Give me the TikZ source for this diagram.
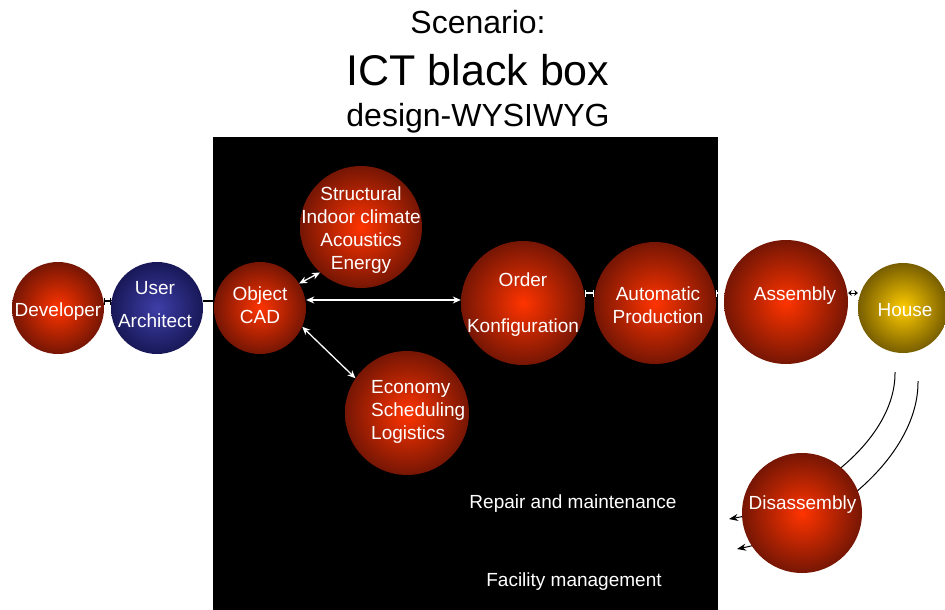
\documentclass[tikz,border=0pt]{standalone}
\usepackage{fontspec}
\setmainfont{Liberation Sans}
\usetikzlibrary{arrows.meta}
\definecolor{rin}{RGB}{255,52,0}
\definecolor{rout}{RGB}{118,22,4}
\definecolor{bin}{RGB}{62,62,168}
\definecolor{bout}{RGB}{24,24,88}
\definecolor{yin}{RGB}{255,204,0}
\definecolor{yout}{RGB}{120,94,0}
\tikzset{
  ball/.style={circle, draw=none, inner sep=0pt, minimum size=#1},
  redball/.style={ball=#1, inner color=rin, outer color=rout},
  blueball/.style={ball=#1, inner color=bin, outer color=bout},
  yellowball/.style={ball=#1, inner color=yin, outer color=yout},
  lbl/.style={text=white, anchor=base, align=center, inner sep=0pt, font=\fontsize{19}{23}\selectfont},
  note/.style={text=white, anchor=base, inner sep=0pt, font=\fontsize{19}{22}\selectfont},
  title/.style={text=black, anchor=base, inner sep=0pt},
  wdarrow/.style={white, line width=1.3pt, {Stealth[length=8pt,width=7pt]}-{Stealth[length=8pt,width=7pt]}},
  wbar/.style={white, line width=1.2pt, {Bar[width=7pt]}-{Bar[width=7pt]}},
  bbar/.style={black, line width=1.2pt, {Bar[width=7pt]}-{Bar[width=7pt]}},
  bdarrow/.style={black, line width=1pt, {Stealth[length=3.5pt,width=6pt]}-{Stealth[length=3.5pt,width=6pt]}},
  curvearrow/.style={black, line width=1pt, -{Stealth[length=9pt,width=7pt]}},
}
\begin{document}
\begin{tikzpicture}[x=1pt,y=-1pt]
\useasboundingbox (0,0) rectangle (945,610);
\fill[black] (213,137) rectangle (718,610);

% titles
\node[title, font=\fontsize{32}{36}\selectfont] (t1) at (478,33.5) {Scenario:};
\node[title, font=\fontsize{43}{48}\selectfont] (t2) at (478,85.5) {ICT black box};
\node[title, font=\fontsize{32}{36}\selectfont] (t3) at (478,126) {design-WYSIWYG};

% curves from House (behind Disassembly)
\coordinate (c1s) at (895,372);
\coordinate (c1e) at (729,519);
\coordinate (c2s) at (918,381);
\coordinate (c2e) at (737,549);
\draw[curvearrow] (c1s) .. controls (896,440) and (810,505) .. (c1e);
\draw[curvearrow] (c2s) .. controls (919,455) and (830,530) .. (c2e);

% balls
\node[redball=92pt] (dev) at (58,308) {};
\node[blueball=92pt] (user) at (157,308) {};
\node[redball=92pt] (obj) at (260,308) {};
\node[redball=122pt] (struct) at (361,227) {};
\node[redball=124pt] (order) at (523,303) {};
\node[redball=122pt] (auto) at (655,303) {};
\node[redball=124pt] (assy) at (786,302) {};
\node[yellowball=90pt] (house) at (903,308) {};
\node[redball=124pt] (econ) at (407,413) {};
\node[redball=120pt] (dis) at (802,513) {};

% labels (base = baseline of last line)
\node[lbl] (ldev) at (58,316) {Developer};
\node[lbl] (luser) at (155,327) {User\\[10pt]Architect};
\node[lbl] (lobj) at (260,323) {Object\\CAD};
\node[lbl] (lstruct) at (361,269) {Structural\\Indoor climate\\Acoustics\\Energy};
\node[lbl] (lorder) at (523,332) {Order\\[23pt]Konfiguration};
\node[lbl] (lauto) at (658,323) {Automatic\\Production};
\node[lbl] (lassy) at (795,300) {Assembly};
\node[lbl] (lhouse) at (905,316) {House};
\node[lbl, anchor=base west, align=left] (lecon) at (371,439) {Economy\\Scheduling\\Logistics};
\node[lbl] (ldis) at (802.5,509) {Disassembly};
\node[note] (rep) at (573,508.5) {Repair and maintenance};
\node[note] (fac) at (574,586.5) {Facility management};

% connectors
\draw[bbar] ([yshift=7pt]dev.east) -- ([yshift=7pt]user.west);
\draw[black, line width=1.2pt] ([yshift=7pt]user.east) -- ([yshift=7pt]obj.west);
\draw[wdarrow] (obj.32) -- (struct.228);
\draw[wdarrow] ([yshift=8pt]obj.east) -- ([yshift=3pt]order.west);
\draw[wdarrow] (obj.336) -- (econ.146);
\draw[wbar] ([yshift=10pt]order.east) -- ([yshift=10pt]auto.west);
\draw[wbar] ([yshift=10pt]auto.east) -- ([yshift=9pt]assy.west);
\draw[bdarrow] ([yshift=9pt]assy.east) -- ([yshift=15pt]house.west);
\end{tikzpicture}
\end{document}
